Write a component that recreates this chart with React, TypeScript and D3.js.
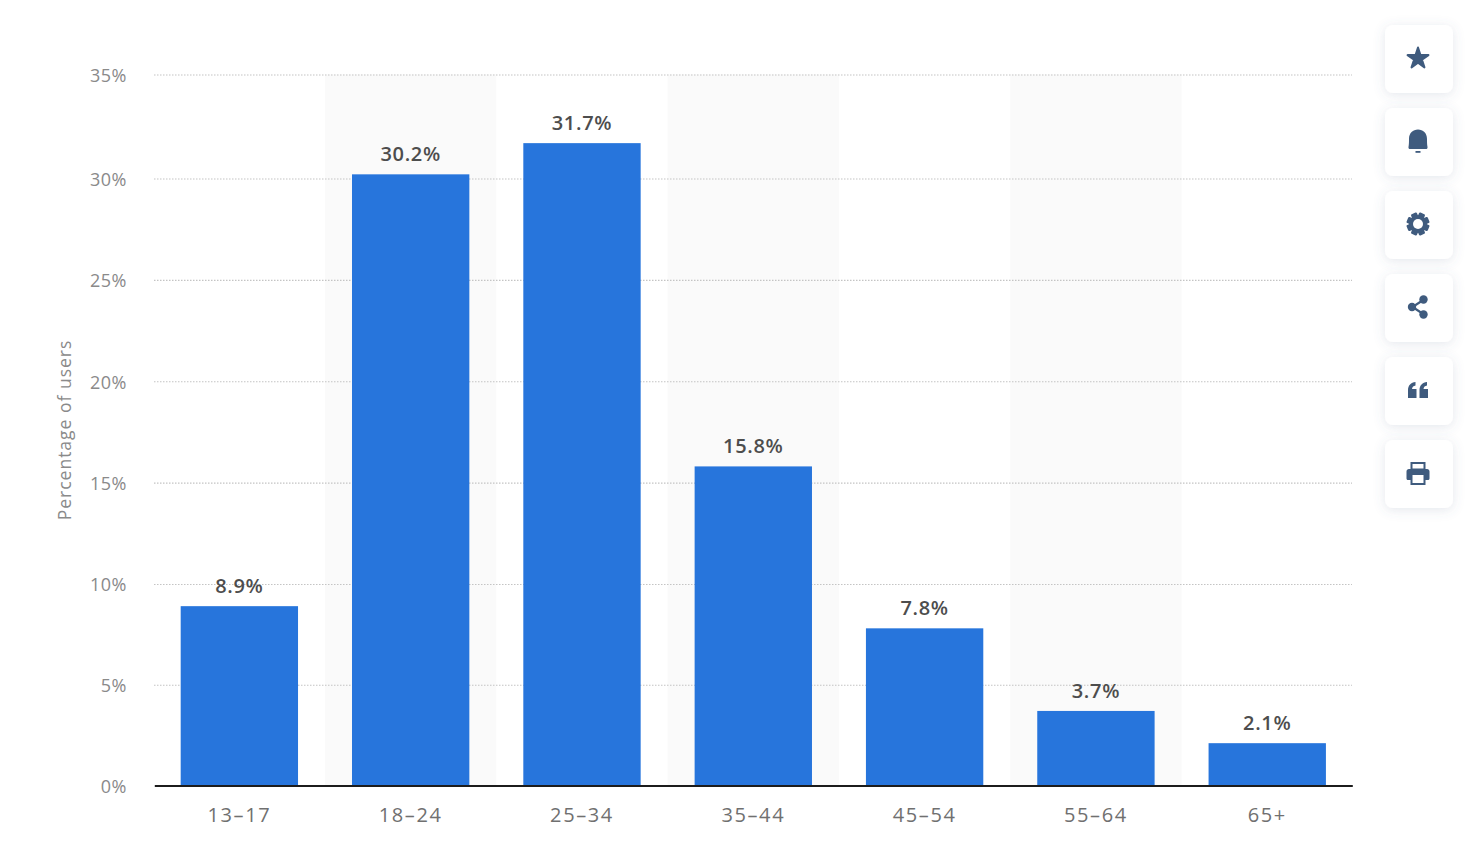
import * as React from 'react';
import * as d3 from "d3";
import { useRef, useEffect } from 'react';

// chart data
const ageGroups = ["13-17", "18-24", "25-34", "35-44", "45-54", "55-64", "65+"]
const ageLabels = ["13–17", "18–24", "25–34", "35–44", "45–54", "55–64", "65+"]
const shares = [8.9, 30.2, 31.7, 15.8, 7.8, 3.7, 2.1]
const yTicks = [0, 5, 10, 15, 20, 25, 30, 35]
const yAxisTitle = "Percentage of users"
const toolbarIcons = ["star", "bell", "gear", "share", "quote", "print"]

const width = 1472
const height = 866
const plot = {left: 154, right: 1352, top: 74.5, bottom: 785.5}
const font = "'Open Sans', sans-serif"
const iconColor = "#3f5b7e"

// icons are drawn around 0,0 in the middle of each toolbar card
const drawIcon = (g: d3.Selection<SVGGElement, unknown, null, undefined>, name: string) => {
    if (name === "star") {
        g.append("path")
            .attr("d", d3.symbol(d3.symbolStar, 135)())
            .attr("transform", "translate(0,0.5)")
            .attr("fill", iconColor)
            .attr("stroke", iconColor)
            .attr("stroke-width", 2)
            .attr("stroke-linejoin", "round")
    }
    if (name === "bell") {
        g.append("path")
            .attr("d", "M-9.5,6 C-9,3 -9,1 -9,-2 C-9,-8 -5,-11.5 0,-11.5 C5,-11.5 9,-8 9,-2 C9,1 9,3 9.5,6 C9.7,7.5 9,8 8,8 L-8,8 C-9,8 -9.7,7.5 -9.5,6 Z")
            .attr("fill", iconColor)
        g.append("rect").attr("x", -2.5).attr("y", 10).attr("width", 5).attr("height", 1.8).attr("fill", iconColor)
    }
    if (name === "gear") {
        const teeth = d3.range(8).map(i => i * 45)
        g.selectAll("rect.tooth").data(teeth).join("rect")
            .attr("class", "tooth")
            .attr("x", -3.2).attr("y", -11.5).attr("width", 6.4).attr("height", 6).attr("rx", 1.2)
            .attr("fill", iconColor)
            .attr("transform", d => `rotate(${d + 22.5})`)
        g.append("circle").attr("r", 8.8).attr("fill", iconColor)
        g.append("circle").attr("r", 5).attr("fill", "#fff")
    }
    if (name === "share") {
        g.append("path")
            .attr("d", "M6,-7.5 L-5.5,0 L6,7.5")
            .attr("fill", "none").attr("stroke", iconColor).attr("stroke-width", 2.2)
        g.append("circle").attr("cx", 5.5).attr("cy", -7.5).attr("r", 4.2).attr("fill", iconColor)
        g.append("circle").attr("cx", -6).attr("cy", 0).attr("r", 4.2).attr("fill", iconColor)
        g.append("circle").attr("cx", 5.5).attr("cy", 7.5).attr("r", 4.2).attr("fill", iconColor)
    }
    if (name === "quote") {
        const mark = "M-10,8 L-10,0 C-10,-4.5 -7,-7.5 -2.5,-8 L-2.5,-4.5 C-4.5,-4.2 -5.8,-3 -6,-1 L-1.5,-1 L-1.5,8 Z"
        g.append("path").attr("d", mark).attr("fill", iconColor)
        g.append("path").attr("d", mark).attr("fill", iconColor).attr("transform", "translate(11.5,0)")
    }
    if (name === "print") {
        g.append("path")
            .attr("fill-rule", "evenodd")
            .attr("fill", iconColor)
            .attr("d", "M-7.5,-4 L-7.5,-11 L7.5,-11 L7.5,-4 L9,-4 C10.5,-4 11.5,-3 11.5,-1.5 L11.5,5.5 C11.5,6.5 10.5,7 10,7 L7.5,7 L7.5,12 L-7.5,12 L-7.5,7 L-10,7 C-10.5,7 -11.5,6.5 -11.5,5.5 L-11.5,-1.5 C-11.5,-3 -10.5,-4 -9,-4 Z M-5.5,-9 L-5.5,-4.5 L5.5,-4.5 L5.5,-9 Z M-5.5,2 L-5.5,10 L5.5,10 L5.5,2 Z")
    }
}

const App = () => {
    const svgRef = useRef<SVGSVGElement>(null)

    useEffect(() => {
        const svg = d3.select(svgRef.current)
        svg.selectAll("*").remove()

        const x = d3.scaleBand<string>()
            .domain(ageGroups)
            .range([plot.left + 0.3, plot.right + 0.3])
            .paddingInner(0.315)
            .paddingOuter(0.154)

        // the screenshot's axis is not quite straight, so calibrate at a few ticks
        const y = d3.scaleLinear()
            .domain([0, 10, 30, 35])
            .range([plot.bottom, 584, 178.5, plot.top])

        const step = x.step()

        const defs = svg.append("defs")
        const shadow = defs.append("filter").attr("id", "card-shadow")
            .attr("x", "-40%").attr("y", "-40%").attr("width", "180%").attr("height", "180%")
        shadow.append("feDropShadow")
            .attr("dx", 0).attr("dy", 2).attr("stdDeviation", 6)
            .attr("flood-color", "#5a6e8c").attr("flood-opacity", 0.16)

        // alternating column stripes
        svg.append("g").selectAll("rect")
            .data(ageGroups.filter((_, i) => i % 2 === 1))
            .join("rect")
            .attr("x", d => x(d)! + x.bandwidth() / 2 - step / 2)
            .attr("y", plot.top)
            .attr("width", step)
            .attr("height", plot.bottom - plot.top)
            .attr("fill", "#fafafa")

        // y axis with dotted gridlines
        const yAxis = svg.append("g")
            .attr("transform", `translate(${plot.left},0)`)
            .call(d3.axisLeft(y).tickValues(yTicks).tickSize(0).tickPadding(27).tickFormat(d => d + "%"))
        yAxis.select(".domain").remove()
        yAxis.selectAll(".tick text")
            .attr("font-family", font)
            .attr("font-size", 18)
            .attr("letter-spacing", 0.5)
            .attr("fill", "#8a8a8a")
            .attr("dy", "0.55em")
            .attr("transform", "translate(0,-3)")
        yAxis.selectAll(".tick")
            .filter(d => d !== 0)
            .append("line")
            .attr("x1", 0)
            .attr("x2", plot.right - plot.left)
            .attr("stroke", "#c4c4c4")
            .attr("stroke-width", 1.2)
            .attr("stroke-dasharray", "1.5 1.5")

        svg.append("text")
            .attr("transform", "translate(71,430) rotate(-90)")
            .attr("text-anchor", "middle")
            .attr("font-family", font)
            .attr("font-size", 17.5)
            .attr("letter-spacing", 1)
            .attr("fill", "#8a8a8a")
            .text(yAxisTitle)

        // bars
        svg.append("g").selectAll("rect")
            .data(shares)
            .join("rect")
            .attr("x", (_, i) => x(ageGroups[i])!)
            .attr("y", d => y(d))
            .attr("width", x.bandwidth())
            .attr("height", d => plot.bottom - y(d))
            .attr("fill", "#2775dc")

        // value labels
        svg.append("g").selectAll("text")
            .data(shares)
            .join("text")
            .attr("x", (_, i) => x(ageGroups[i])! + x.bandwidth() / 2)
            .attr("y", d => y(d) - 13)
            .attr("text-anchor", "middle")
            .attr("font-family", font)
            .attr("font-size", 20)
            .attr("font-weight", 600)
            .attr("letter-spacing", 0.7)
            .attr("fill", "#4d4d4d")
            .text(d => d.toFixed(1) + "%")

        // x axis
        const xAxis = svg.append("g")
            .attr("transform", `translate(0,${plot.bottom})`)
            .call(d3.axisBottom(x).tickSize(0).tickPadding(22).tickFormat((_, i) => ageLabels[i]))
        xAxis.select(".domain")
            .attr("stroke", "#1c1c1c")
            .attr("stroke-width", 2)
        xAxis.selectAll(".tick text")
            .attr("font-family", font)
            .attr("font-size", 20)
            .attr("letter-spacing", 1.6)
            .attr("fill", "#707070")

        // toolbar on the right
        const cards = svg.append("g").selectAll("g")
            .data(toolbarIcons)
            .join("g")
            .attr("transform", (_, i) => `translate(1419,${59 + i * 83})`)
        cards.append("rect")
            .attr("x", -34).attr("y", -34)
            .attr("width", 68).attr("height", 68)
            .attr("rx", 8)
            .attr("fill", "#fff")
            .attr("filter", "url(#card-shadow)")
        cards.append("g")
            .attr("transform", "translate(-1,-1)")
            .each(function (d) {
                drawIcon(d3.select(this as SVGGElement), d)
            })
    }, [])

    return <svg ref={svgRef} width={width} height={height}
        style={{position: "absolute", left: 0, top: 0, background: "#fff"}} />
}

export default App
